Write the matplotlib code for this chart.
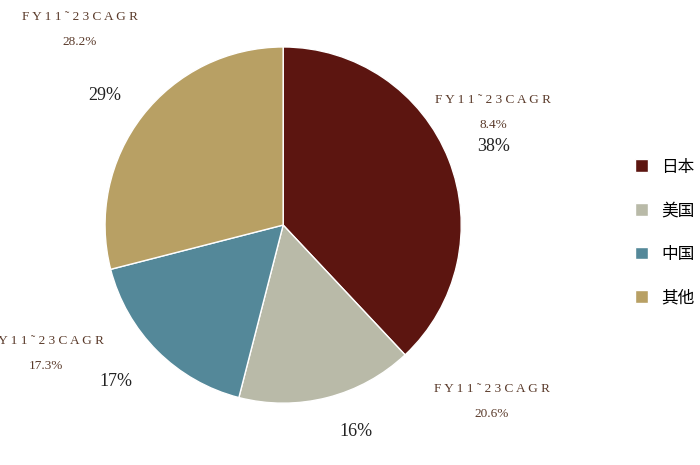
import matplotlib.pyplot as plt

plt.rcParams['font.family'] = ['Noto Sans CJK SC', 'DejaVu Sans']

labels = ['日本', '美国', '中国', '其他']
shares = [38, 16, 17, 29]
cagr = ['8.4%', '20.6%', '17.3%', '28.2%']
colors = ['#5C1510', '#B9BAA8', '#548899', '#B8A064']

fig = plt.figure(figsize=(7, 4.65), dpi=100)
ax = fig.add_axes([0.15, 0.133, 0.509, 0.766])
wedges, _ = ax.pie(shares, colors=colors, startangle=90, counterclock=False,
                   wedgeprops=dict(edgecolor='white', linewidth=1))
ax.set_xlim(-1, 1)
ax.set_ylim(-1, 1)
ax.set_aspect('equal')

# 百分比与CAGR标注位置 (数据坐标, 半径=1)
pct_pos = [(1.18, 0.44), (0.41, -1.16), (-0.94, -0.88), (-1.0, 0.73)]
cagr_pos = [(1.18, 0.70), (1.17, -0.92), (-1.33, -0.65), (-1.14, 1.17)]
serif = ['Liberation Serif', 'DejaVu Serif']
for i in range(len(shares)):
    x, y = pct_pos[i]
    ax.text(x, y, f'{shares[i]}%', ha='center', va='center', fontsize=13,
            family=serif, color='#222222', clip_on=False)
    x, y = cagr_pos[i]
    ax.text(x, y, 'F Y 1 1 ˜ 2 3 C A G R', ha='center', va='center', fontsize=9.5,
            family=serif, color='#5a3a2a', clip_on=False)
    ax.text(x, y - 0.14, cagr[i], ha='center', va='center', fontsize=9.5,
            family=serif, color='#5a3a2a', clip_on=False)

fig.legend(wedges, labels, loc='center left', bbox_to_anchor=(0.885, 0.5),
           frameon=False, fontsize=12, handlelength=0.8, handleheight=0.8,
           labelspacing=1.6, handletextpad=0.8)

fig.savefig('out.png', dpi=100)
